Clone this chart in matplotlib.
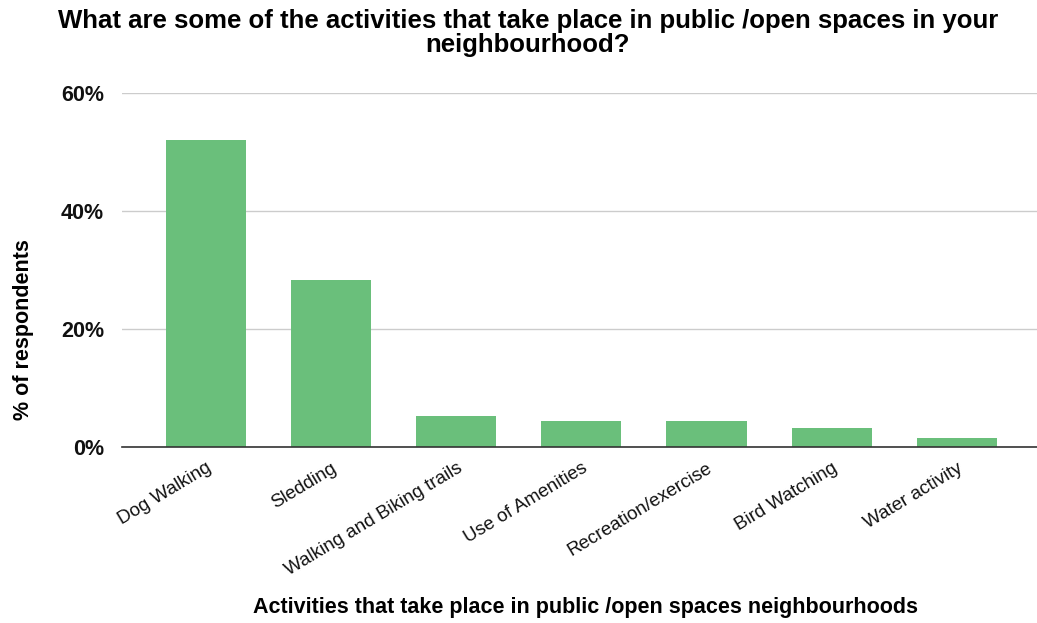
import numpy as np
import matplotlib
matplotlib.use("Agg")
from matplotlib import pyplot as plt
from matplotlib.ticker import FuncFormatter

# survey results, share of respondents (%)
activities = ["Dog Walking", "Sledding", "Walking and Biking trails",
              "Use of Amenities", "Recreation/exercise", "Bird Watching",
              "Water activity"]
percent = [52.0, 28.3, 5.3, 4.4, 4.4, 3.2, 1.6]
yticks = [0, 20, 40, 60]

plt.rcParams['font.family'] = ['Liberation Sans', 'DejaVu Sans']

fig = plt.figure(figsize=(10.37, 6.23), dpi=100)
ax = fig.add_axes([122 / 1037, 1 - 447 / 623, (1037 - 122) / 1037, (447 - 93) / 623])

x = np.arange(len(activities))
ax.bar(x, percent, width=0.64, color="#6abf7b", zorder=3)

ax.set_ylim(0, 60)
ax.set_xlim(-0.67, 6.64)
ax.set_yticks(yticks)
ax.yaxis.set_major_formatter(FuncFormatter(lambda v, p: "%d%%" % v))
ax.grid(axis="y", color="#cccccc", linewidth=1, zorder=0)
ax.set_axisbelow(True)
for s in ["top", "right", "left"]:
    ax.spines[s].set_visible(False)
ax.spines["bottom"].set_color("#333333")
ax.spines["bottom"].set_linewidth(1.2)
ax.spines["bottom"].set_zorder(4)
ax.tick_params(axis="y", length=0, pad=13, labelsize=15.5)
for lab in ax.get_yticklabels():
    lab.set_fontweight("bold")
    lab.set_color("#111111")
ax.set_xticks(x)
ax.set_xticklabels(activities, rotation=31, ha="right", rotation_mode="anchor",
                   fontsize=13.5, color="#111111")
ax.tick_params(axis="x", length=0, pad=9)

ax.set_ylabel("% of respondents", fontsize=15.5, fontweight="bold")
ax.yaxis.set_label_coords(-(122 - 34) / 915, (447 - 330) / 354)
fig.text(0.5645, 1 - 607 / 623, "Activities that take place in public /open spaces neighbourhoods",
         ha="center", va="center", fontsize=15.5, fontweight="bold")
fig.text(0.509, 1 - 33 / 623,
         "What are some of the activities that take place in public /open spaces in your\nneighbourhood?",
         ha="center", va="center", fontsize=18.5, fontweight="bold", linespacing=0.95)

fig.savefig("out.png", dpi=100)
